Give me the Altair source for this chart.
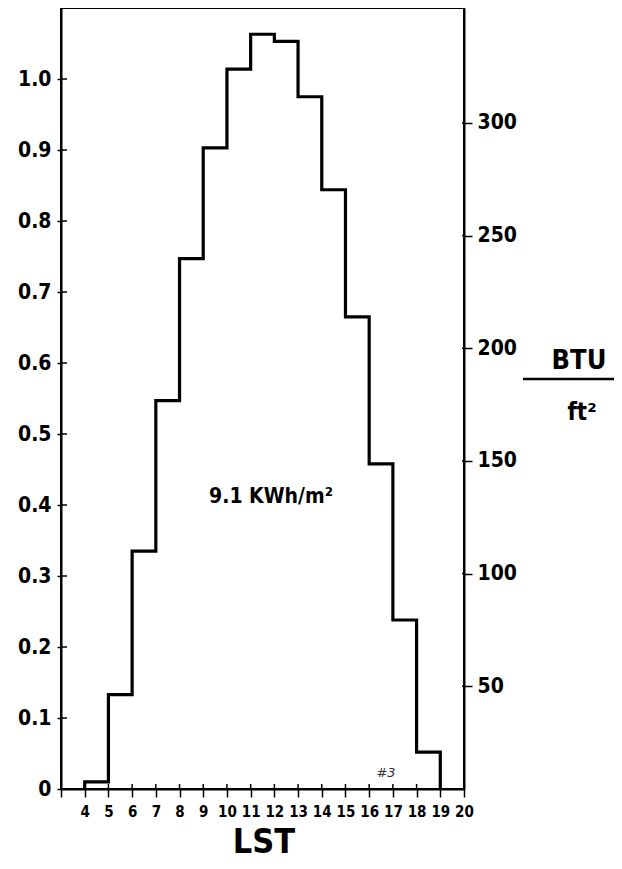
import altair as alt
import pandas as pd

# Hourly values (kWh/m^2) for the hour starting at each LST value
hour_start = [4, 5, 6, 7, 8, 9, 10, 11, 12, 13, 14, 15, 16, 17, 18]
kwh = [0.01, 0.133, 0.335, 0.547, 0.747, 0.903, 1.014, 1.063, 1.053, 0.975,
       0.844, 0.665, 0.458, 0.238, 0.052]
end_hour = 19

x_ticks = list(range(3, 21))
left_ticks = [0, 0.1, 0.2, 0.3, 0.4, 0.5, 0.6, 0.7, 0.8, 0.9, 1.0]
right_ticks = [50, 100, 150, 200, 250, 300]

total_label = "9.1  KWh/m²"
unit_top = "BTU"
unit_bottom = "ft²"
x_title = "LST"
note = "#3"

FONT = "DejaVu Sans Condensed"
W, H = 403, 781

# step outline points
pts = [{"hour": hour_start[0], "v": 0.0}]
pts += [{"hour": h, "v": v} for h, v in zip(hour_start, kwh)]
pts += [{"hour": end_hour, "v": 0.0}]
step_df = pd.DataFrame(pts)

xscale = alt.Scale(domain=[3, 20], nice=False, zero=False)
yscale = alt.Scale(domain=[0, 1.1], nice=False)
rscale = alt.Scale(domain=[4.4, 351], nice=False, zero=False)

x_axis = alt.Axis(values=x_ticks, title=None, grid=False,
                  labelExpr="datum.value == 3 ? '' : datum.label",
                  labelFont=FONT, labelFontSize=15, labelFontWeight="bold",
                  labelColor="black", tickColor="black", tickSize=8, tickWidth=1.5,
                  domainColor="black", domainWidth=2, labelPadding=7, labelFlush=False)
y_axis = alt.Axis(values=left_ticks, title=None, grid=False,
                  labelExpr="datum.value == 0 ? '0' : format(datum.value, '.1f')",
                  labelFont=FONT, labelFontSize=21, labelFontWeight="bold",
                  labelColor="black", tickColor="black", tickSize=4, tickWidth=1.5,
                  domainColor="black", domainWidth=2, labelPadding=6, labelFlush=False)
r_axis = alt.Axis(values=right_ticks, title=None, grid=False, orient="right",
                  labelFont=FONT, labelFontSize=21, labelFontWeight="bold",
                  labelColor="black", tickColor="black", tickSize=8, tickWidth=1.5,
                  domainColor="black", domainWidth=2, labelPadding=5, labelFlush=False)

step = alt.Chart(step_df).mark_line(interpolate="step-after", color="black",
                                    strokeWidth=3.2, strokeJoin="miter").encode(
    x=alt.X("hour:Q", scale=xscale, axis=x_axis),
    y=alt.Y("v:Q", scale=yscale, axis=y_axis),
)

left_in = alt.Chart(pd.DataFrame({"v": left_ticks})).mark_rule(
    color="black", strokeWidth=1.5).encode(
    y=alt.Y("v:Q", scale=yscale, axis=y_axis),
    x=alt.value(0), x2=alt.value(6))

x_in = alt.Chart(pd.DataFrame({"hour": x_ticks})).mark_rule(
    color="black", strokeWidth=1.5).encode(
    x=alt.X("hour:Q", scale=xscale, axis=x_axis),
    y=alt.value(H), y2=alt.value(H - 5))

def txt(s, x, y, size, baseline="alphabetic"):
    return alt.Chart(pd.DataFrame({"t": [s]})).mark_text(
        font=FONT, fontSize=size, fontWeight="bold", color="black",
        align="center", baseline=baseline).encode(
        text="t:N", x=alt.value(x), y=alt.value(y))

t_total = txt(total_label, 210, 495, 21)
t_btu = txt(unit_top, 518, 361, 27)
t_ft = txt(unit_bottom, 521, 412, 24)
t_lst = txt(x_title, 203, 852, 34, baseline="bottom")
t_note = alt.Chart(pd.DataFrame({"t": [note]})).mark_text(
    font="DejaVu Sans", fontSize=13, fontStyle="italic", color="#333333",
    align="center", baseline="alphabetic").encode(
    text="t:N", x=alt.value(325), y=alt.value(769))
frac = alt.Chart(pd.DataFrame({"t": [unit_top]})).mark_rule(
    color="black", strokeWidth=2.5).encode(
    x=alt.value(462), x2=alt.value(553), y=alt.value(371))

left_layer = alt.layer(step, left_in, x_in, t_total, t_btu, t_ft, t_lst, t_note, frac)

right_layer = alt.Chart(pd.DataFrame({"b": right_ticks})).mark_rule(
    color="black", strokeWidth=1.5).encode(
    y=alt.Y("b:Q", scale=rscale, axis=r_axis),
    x=alt.value(W - 2), x2=alt.value(W))

chart = alt.layer(left_layer, right_layer).resolve_scale(y="independent").properties(
    width=W, height=H,
    padding={"left": 53, "top": 0, "right": 150, "bottom": 72},
    autosize=alt.AutoSizeParams(type="none"),
    background="white",
).configure_view(stroke="black", strokeWidth=2)

chart.save("out.html", embed_options={"renderer": "svg", "actions": False})
